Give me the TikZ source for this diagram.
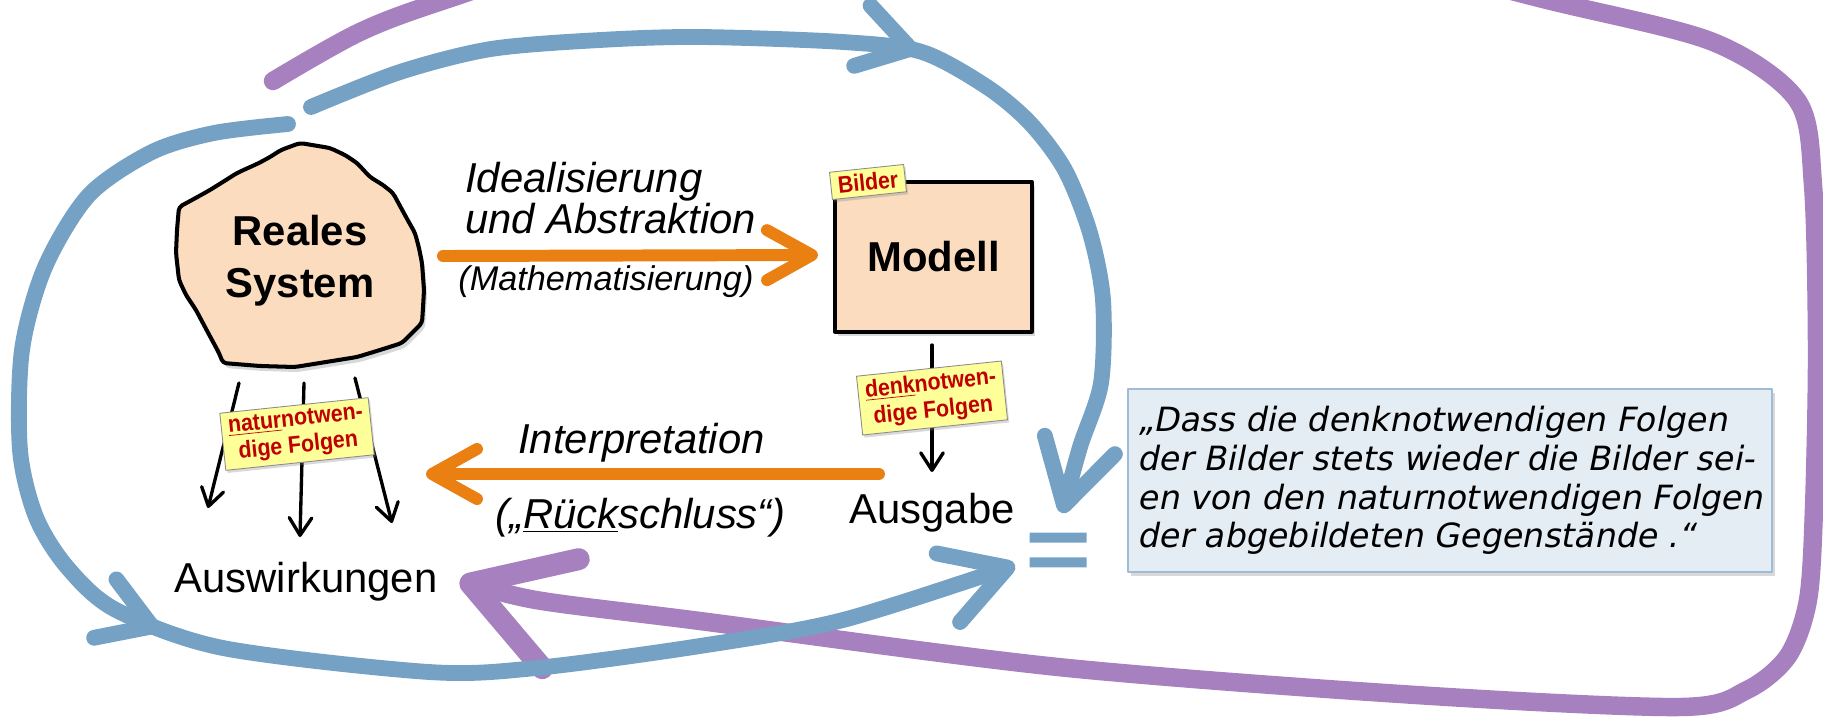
\documentclass[tikz,border=0pt]{standalone}
\usepackage{fontspec}
\setmainfont{Liberation Sans}
\newfontfamily\quotefont{DejaVu Sans}[FakeSlant=0.2]
\newfontfamily\tagfont{Liberation Sans}[FakeStretch=0.9]
\usetikzlibrary{arrows.meta,shadows,decorations.markings}

\definecolor{loopblue}{RGB}{117,161,196}
\definecolor{looppurple}{RGB}{166,128,191}
\definecolor{arroworange}{RGB}{234,128,18}
\definecolor{peach}{RGB}{251,220,190}
\definecolor{tagyellow}{RGB}{255,255,153}
\definecolor{tagred}{RGB}{192,0,0}
\definecolor{quotefill}{RGB}{228,236,244}
\definecolor{quoteline}{RGB}{160,187,214}

\newcommand{\fs}[2]{\fontsize{#1}{#2}\selectfont}

\begin{document}
\begin{tikzpicture}[x=0.02cm,y=-0.02cm,line cap=round,line join=round,
                    every node/.style={inner sep=0pt}]

  \tikzstyle{bigword}=[font=\fs{23.8}{29.5}]
  \tikzstyle{boldword}=[font=\fs{23.8}{29.5}\bfseries,align=center]
  \tikzstyle{slanted}=[font=\fs{23.8}{23.2}\itshape,align=left]
  \tikzstyle{tag}=[fill=tagyellow,draw=black!45,line width=0.5pt,rotate=6,
                   font=\tagfont\fs{13.5}{15.3}\bfseries,text=tagred,align=center,
                   inner xsep=0.14cm,inner ysep=0.1cm,
                   drop shadow={opacity=0.3,shadow xshift=1pt,shadow yshift=-1.5pt}]
  \tikzstyle{modelbox}=[draw,line width=1.9pt,fill=peach,font=\fs{23.8}{29.5}\bfseries,
                        minimum width=3.94cm,minimum height=3cm,
                        drop shadow={opacity=0.3,shadow xshift=1.5pt,shadow yshift=-2pt}]
  \tikzstyle{quotebox}=[fill=quotefill,draw=quoteline,line width=1pt,
                        minimum width=12.88cm,minimum height=3.66cm,
                        align=left,font=\quotefont\fs{19}{22.1},
                        drop shadow={opacity=0.3,shadow xshift=1.5pt,shadow yshift=-2pt}]
  \tikzstyle{blobshadow}=[fill=black!30,opacity=0.5]
  \tikzstyle{blobbody}=[fill=peach,draw=black,line width=2.3pt]
  \tikzstyle{blueloop}=[color=loopblue,line width=9pt]
  \tikzstyle{purpleloop}=[color=looppurple,line width=10.5pt]
  \tikzstyle{orangearrow}=[draw=arroworange,line width=6.8pt,
                           -{Straight Barb[length=0.9cm,width=1.0cm,round]},
                           preaction={draw=black!30,opacity=0.5,
                                      transform canvas={shift={(1pt,-2pt)}}}]
  \tikzstyle{thinarrow}=[draw=black,line width=1.9pt,
                         -{Straight Barb[length=0.35cm,width=0.45cm,round]}]
  \tikzstyle{midtip}=[postaction={decorate,decoration={markings,
                      mark=at position #1 with {\arrow[loopblue,line width=9pt]
                      {Straight Barb[length=1.0cm,width=1.25cm,round]}}}}]

  \useasboundingbox (0,0) rectangle (1823,724);
  \clip (0,0) rectangle (1823,724);

  % the two loops
  \draw[purpleloop,-{Straight Barb[length=1.9cm,width=2.3cm,round,line width=12.5pt]}]
    plot[smooth] coordinates {(273,81) (360,32) (451,-2) (700,-80) (1000,-100)
      (1300,-60) (1547,0) (1713,42) (1797,100) (1813,185) (1817,350) (1814,508)
      (1808,600) (1788,656) (1747,690) (1680,707) (1416,695) (1058,667)
      (700,621) (536,600) (460,580)};

  \node (eq) at (1058.5,550) [minimum width=1.14cm,minimum height=0.68cm] {};
  \fill[loopblue] (eq.north west) rectangle ++(57,10)
                  (eq.south west) rectangle ++(57,-10);

  \draw[blueloop,midtip=0.455,-{Straight Barb[length=1.25cm,width=1.45cm,round]}]
    plot[smooth] coordinates {(288,124) (214,133) (152,152) (89,195) (45,267)
      (22,350) (20,450) (36,517) (67,567) (116,610) (223,648) (429,672)
      (536,668) (700,646) (843,620) (1015,565)};
  \draw[blueloop,midtip=0.53,-{Straight Barb[length=1.25cm,width=1.45cm,round]}]
    plot[smooth] coordinates {(311,107) (400,72) (491,49) (600,40) (700,37)
      (843,42) (922,52) (987,87) (1030,123) (1065,170) (1090,233) (1103,300)
      (1101,383) (1080,447) (1062,513)};

  % real system
  \foreach \dx/\dy/\sty in {3/5/blobshadow,0/0/blobbody}
    \path[\sty,shift={(\dx,\dy)},rounded corners=2pt]
      (300,143) -- (330,148) -- (345,155) -- (357,163) -- (370,177) -- (383,185)
      -- (393,193) -- (406,217) -- (415,233) -- (419,248) -- (422,263) -- (424,290)
      -- (423,308) -- (422,323) -- (402,343) -- (380,350) -- (357,357) -- (295,367)
      -- (260,366) -- (223,363) -- (219,353) -- (212,340) -- (205,327) -- (196,310)
      -- (186,295) -- (179,280) -- (176,253) -- (177,230) -- (179,207) -- (192,200)
      -- (210,190) -- (226,180) -- (237,173) -- (259,163) -- (270,157) -- (281,150)
      -- cycle;
  \node[boldword] (real) at (300,261) {Reales\\System};

  \node[modelbox] (model) at (933.5,257) {Modell};

  \node[bigword,anchor=base] (ausgabe) at (932,523) {Ausgabe};
  \node[bigword,anchor=base] (auswirk) at (306,592) {Auswirkungen};

  % arrows
  \coordinate (ideal1) at (443,256);
  \coordinate (ideal2) at (818,255);
  \coordinate (interp1) at (879,474);
  \coordinate (interp2) at (426,474);
  \coordinate (denk1) at (932,345);
  \coordinate (denk2) at (932,472);
  \coordinate (natur1) at (239,383);  \coordinate (wirk1) at (208,508);
  \coordinate (natur2) at (304,383);  \coordinate (wirk2) at (300,537);
  \coordinate (natur3) at (355,378);  \coordinate (wirk3) at (392,523);

  \path (ideal1) edge[orangearrow] (ideal2)
        (interp1) edge[orangearrow] (interp2)
        (denk1) edge[thinarrow] (denk2);
  \foreach \i in {1,2,3}
    \draw[thinarrow] (natur\i) -- (wirk\i);

  \node[slanted,anchor=base west] (ideal) at (465,233) {Idealisierung\\und Abstraktion};
  \node[font=\fs{19.5}{22}\itshape,anchor=base west] (mathe) at (458,290) {(Mathematisierung)};
  \node[slanted,anchor=base west] (interp) at (518,453) {Interpretation};
  \node[slanted,anchor=base west] (rueck) at (495,528) {(„\underline{Rück}schluss“)};

  % tags
  \node[tag] (bildertag) at (868,182) {Bilder};
  \node[tag] (denktag) at (932,398) {\underline{denk}notwen-\\dige Folgen};
  \node[tag] (naturtag) at (297,434) {\underline{natur}notwen-\\dige Folgen};

  \node[quotebox] (quote) at (1450,480.5) {„Dass die denknotwendigen Folgen\\
    der Bilder stets wieder die Bilder sei-\\en von den naturnotwendigen Folgen\\
    der abgebildeten Gegenstände .“};
\end{tikzpicture}
\end{document}
